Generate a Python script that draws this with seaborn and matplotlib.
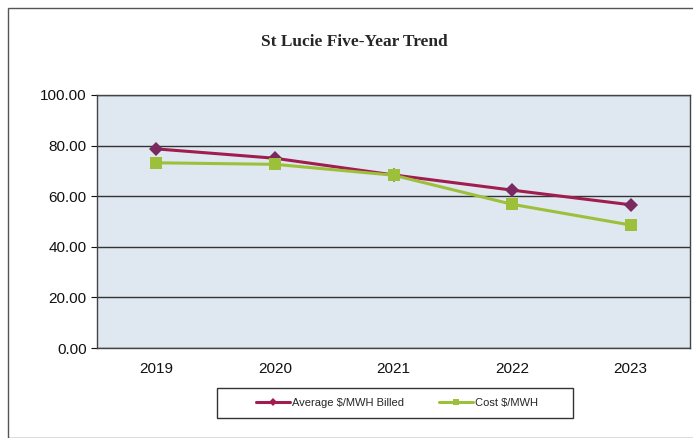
import matplotlib
matplotlib.use("Agg")
import matplotlib.pyplot as plt
import seaborn as sns
import pandas as pd
from matplotlib.patches import Rectangle

years = ["2019", "2020", "2021", "2022", "2023"]
avg_billed = [78.7, 75.0, 68.4, 62.4, 56.6]
cost_mwh = [73.2, 72.6, 68.3, 56.8, 48.6]
series_names = ["Average $/MWH Billed", "Cost $/MWH"]

df = pd.DataFrame({
    "year": years * 2,
    "value": avg_billed + cost_mwh,
    "series": [series_names[0]] * len(years) + [series_names[1]] * len(years),
})

sns.set_style("white")
plt.rcParams["font.family"] = ["Liberation Sans", "DejaVu Sans"]

fig = plt.figure(figsize=(6.93, 4.38), dpi=100)
ax = fig.add_axes([97 / 693, 1 - 348 / 438, 593 / 693, 253 / 438])

# outer chart frame
fig.patches.append(Rectangle((8 / 693, 0), 690 / 693, 1 - 8 / 438,
                             transform=fig.transFigure, fill=False,
                             edgecolor="#555555", linewidth=1.0))

ax.set_facecolor("#dfe7f1")
palette = {series_names[0]: "#a01d4e", series_names[1]: "#9cc03a"}
markers = {series_names[0]: "D", series_names[1]: "s"}

sns.lineplot(data=df, x="year", y="value", hue="series", style="series",
             palette=palette, markers=markers, dashes=False, linewidth=2.2,
             markersize=8, markeredgewidth=0, ax=ax, sort=False)
for line, name in zip(ax.lines[:2], series_names):
    if name == series_names[0]:
        line.set_markerfacecolor("#7a2a5e")
        line.set_markersize(7)

ax.set_xlim(-0.5, 4.5)
ax.set_ylim(0, 100)
ax.set_yticks([0, 20, 40, 60, 80, 100])
ax.set_yticklabels([f"{v:.2f}" for v in [0, 20, 40, 60, 80, 100]])
ax.yaxis.grid(True, color="#333333", linewidth=1.0)
ax.set_axisbelow(True)
ax.set_xlabel("")
ax.set_ylabel("")
ax.tick_params(axis="both", labelsize=11, colors="#111111", length=4,
               direction="out", left=True, bottom=True)
ax.set_xticks([-0.5, 0.5, 1.5, 2.5, 3.5, 4.5], minor=True)
ax.tick_params(axis="x", which="major", length=0, pad=10)
ax.tick_params(axis="x", which="minor", length=4, direction="in", color="#333333")
for side in ["left", "bottom", "top", "right"]:
    ax.spines[side].set_color("#444444")
    ax.spines[side].set_linewidth(1.0)

fig.text(0.512, 1 - 42 / 438, "St Lucie Five-Year Trend", ha="center", va="center",
         fontsize=12.5, fontweight="bold", family=["Liberation Serif", "DejaVu Serif"])

# legend box drawn separately so its padding matches the reference
fig.patches.append(Rectangle((217 / 693, 1 - 418 / 438), 356 / 693, 30 / 438,
                             transform=fig.transFigure, fill=True, facecolor="white",
                             edgecolor="#333333", linewidth=1.0, zorder=1))
handles, labels = ax.get_legend_handles_labels()
ax.legend_.remove()
leg = fig.legend(handles, labels, loc="center", bbox_to_anchor=(397 / 693, 1 - 403 / 438),
                 ncol=2, fontsize=8, frameon=False, handlelength=3.0,
                 handletextpad=0.2, columnspacing=3.2, markerscale=0.5)
leg.set_zorder(2)

fig.savefig("out.png", dpi=100, facecolor="white")
